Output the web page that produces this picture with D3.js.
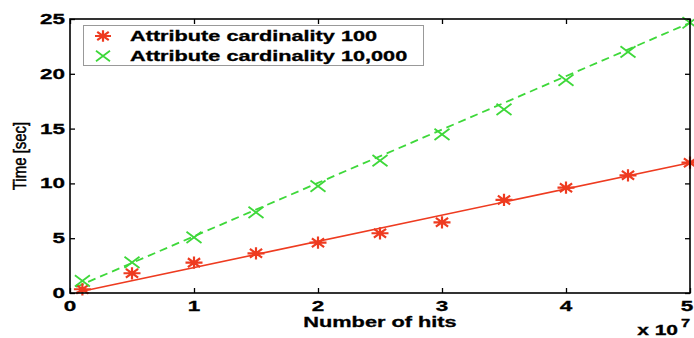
<!DOCTYPE html>
<html>
<head>
<meta charset="utf-8">
<script src="https://cdn.jsdelivr.net/npm/d3@7"></script>
<style>
  body { margin: 0; background: #fff; }
  text { font-family: "Liberation Sans", Arial, sans-serif; }
</style>
</head>
<body>
<script>
(function(){
    // chart data (hits in units of 10^7, time in seconds)
    var hits = [0.1, 0.5, 1, 1.5, 2, 2.5, 3, 3.5, 4, 4.5, 5];
    var card100 = [0.34, 1.8, 2.77, 3.62, 4.59, 5.45, 6.45, 8.49, 9.61, 10.74, 11.89];
    var card10000 = [1.1, 2.8, 5.08, 7.36, 9.76, 12.07, 14.48, 16.76, 19.43, 22.0, 24.66];
    // fitted lines: [x, y] end points
    var fit100 = [[0.05, 0.05], [5, 11.89]];
    var fit10000 = [[0.05, 0.55], [5, 24.65]];
    var xTicks = [0, 1, 2, 3, 4, 5];
    var yTicks = [0, 5, 10, 15, 20, 25];
    var seriesNames = ["Attribute cardinality 100", "Attribute cardinality 10,000"];

    var width = 694, height = 338;
    var left = 70, right = 690, top = 19, bottom = 293;
    var stretch = 1.5;
    var red = "#ee3b20", green = "#3ed83a";

    var svg = d3.select("body").append("svg")
        .attr("width", width)
        .attr("height", height);

    var x = d3.scaleLinear().domain([0, 5]).range([left, right]);
    var y = d3.scaleLinear().domain([0, 25]).range([bottom, top]);

    function label(str, px, py, anchor, size, weight, sx){
        return svg.append("text")
            .attr("transform", "translate(" + px + "," + py + ") scale(" + (sx || stretch) + ",1)")
            .attr("text-anchor", anchor)
            .attr("font-size", size)
            .attr("font-weight", weight)
            .attr("fill", "#000")
            .attr("stroke", "#000")
            .attr("stroke-width", 0.3)
            .text(str);
    }

    // inward ticks on all four sides
    var tickLen = 5;
    svg.append("g")
        .attr("transform", "translate(0," + bottom + ")")
        .call(d3.axisBottom(x).tickValues(xTicks).tickSize(-tickLen).tickFormat(""))
        .call(g => g.select(".domain").remove());
    svg.append("g")
        .attr("transform", "translate(0," + top + ")")
        .call(d3.axisTop(x).tickValues(xTicks).tickSize(-tickLen).tickFormat(""))
        .call(g => g.select(".domain").remove());
    svg.append("g")
        .attr("transform", "translate(" + left + ",0)")
        .call(d3.axisLeft(y).tickValues(yTicks).tickSize(-tickLen).tickFormat(""))
        .call(g => g.select(".domain").remove());
    svg.append("g")
        .attr("transform", "translate(" + right + ",0)")
        .call(d3.axisRight(y).tickValues(yTicks).tickSize(-tickLen).tickFormat(""))
        .call(g => g.select(".domain").remove());
    svg.selectAll(".tick line").attr("stroke", "#000").attr("stroke-width", 1.3);

    // tick labels
    xTicks.forEach(function(t){
        var px = t === 5 ? x(t) - 3 : x(t);
        label(t, px, 311, "middle", 15, "bold");
    });
    yTicks.forEach(function(t){
        label(t, left - 5, y(t) + 5, "end", 15, "bold");
    });

    // axis titles
    label("Number of hits", (left + right) / 2, 327, "middle", 14.5, "bold");
    label("x 10", 678, 335, "end", 14, "bold");
    label("7", 681, 327, "start", 11, "bold");
    svg.append("text")
        .attr("transform", "translate(26," + ((top + bottom) / 2) + ") rotate(-90) scale(1,1.2)")
        .attr("text-anchor", "middle")
        .attr("font-size", 15)
        .attr("fill", "#000")
        .attr("stroke", "#000")
        .attr("stroke-width", 0.4)
        .text("Time [sec]");

    // fitted lines
    var line = d3.line().x(d => x(d[0])).y(d => y(d[1]));
    svg.append("path")
        .datum(fit100)
        .attr("d", line)
        .attr("fill", "none")
        .attr("stroke", red)
        .attr("stroke-width", 1.6);
    svg.append("path")
        .datum(fit10000)
        .attr("d", line)
        .attr("fill", "none")
        .attr("stroke", green)
        .attr("stroke-width", 1.8)
        .attr("stroke-dasharray", "8,5");

    // markers
    function starPath(r){
        var h = r * 0.72;
        return "M" + (-r) + ",0L" + r + ",0M0," + (-h) + "L0," + h +
            "M" + (-r * 0.72) + "," + (-h * 0.72) + "L" + (r * 0.72) + "," + (h * 0.72) +
            "M" + (-r * 0.72) + "," + (h * 0.72) + "L" + (r * 0.72) + "," + (-h * 0.72);
    }
    function crossPath(r){
        var h = r * 0.75;
        return "M" + (-r) + "," + (-h) + "L" + r + "," + h + "M" + (-r) + "," + h + "L" + r + "," + (-h);
    }

    svg.selectAll(".m100")
        .data(hits)
        .enter()
        .append("path")
        .attr("class", "m100")
        .attr("transform", (d, i) => "translate(" + x(d) + "," + y(card100[i]) + ")")
        .attr("d", starPath(8.5))
        .attr("stroke", red)
        .attr("stroke-width", 2.2)
        .attr("fill", "none");

    svg.selectAll(".m10000")
        .data(hits)
        .enter()
        .append("path")
        .attr("class", "m10000")
        .attr("transform", (d, i) => "translate(" + x(d) + "," + y(card10000[i]) + ")")
        .attr("d", crossPath(7.5))
        .attr("stroke", green)
        .attr("stroke-width", 1.8)
        .attr("fill", "none");

    // axes box
    svg.append("rect")
        .attr("x", left)
        .attr("y", top)
        .attr("width", right - left)
        .attr("height", bottom - top)
        .attr("fill", "none")
        .attr("stroke", "#000")
        .attr("stroke-width", 1.6);

    // legend
    svg.append("rect")
        .attr("x", 83.5)
        .attr("y", 25.5)
        .attr("width", 340)
        .attr("height", 40)
        .attr("fill", "#fff")
        .attr("stroke", "#999")
        .attr("stroke-width", 1);

    svg.append("path")
        .attr("transform", "translate(103,36)")
        .attr("d", starPath(8))
        .attr("stroke", red)
        .attr("stroke-width", 2.2)
        .attr("fill", "none");
    svg.append("path")
        .attr("transform", "translate(103,56)")
        .attr("d", crossPath(7))
        .attr("stroke", green)
        .attr("stroke-width", 1.8)
        .attr("fill", "none");

    label(seriesNames[0], 130, 41, "start", 14, "bold", 1.55);
    label(seriesNames[1], 130, 61, "start", 14, "bold", 1.55);
})();
</script>
</body>
</html>
